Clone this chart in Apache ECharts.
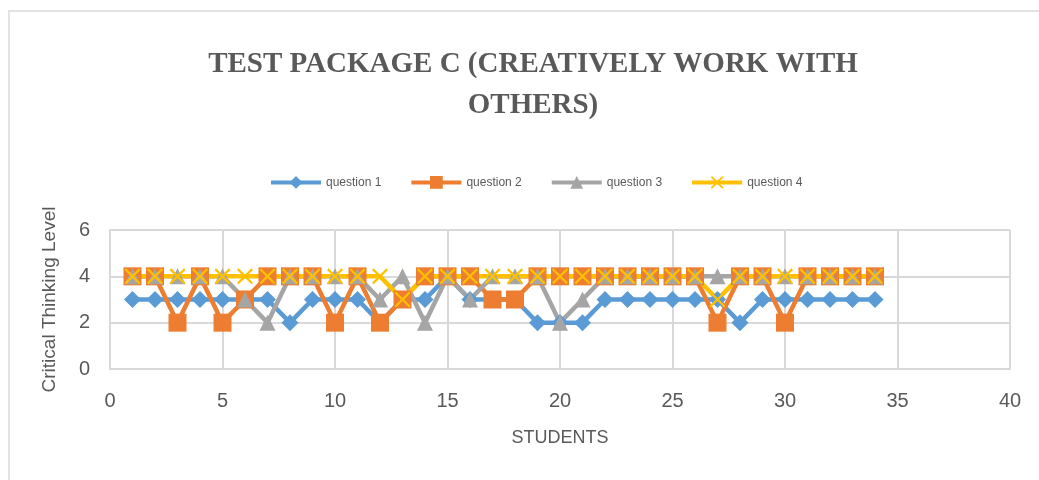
<!DOCTYPE html>
<html>
<head>
<meta charset="utf-8">
<script src="https://cdn.jsdelivr.net/npm/echarts@6/dist/echarts.min.js"></script>
<style>
    html, body { margin: 0; padding: 0; background: #ffffff; }
    /* chart frame */
    #frame {
        position: absolute; left: 8px; top: 10px;
        width: 1040px; height: 480px;
        border-left: 2px solid #e3e3e3; border-top: 2px solid #e3e3e3;
        box-sizing: border-box;
    }
    #main { position: absolute; left: 0; top: 0; width: 1039px; height: 480px; }
</style>
</head>
<body>
<div id="frame"></div>
<div id="main"></div>
<script>
    // students 1..34
    var students = [];
    for (var i = 1; i <= 34; i++) students.push(i);

    var question1 = [3,3,3,3,3,3,3,2,3,3,3,2,3,3,4,3,3,3,2,2,2,3,3,3,3,3,3,2,3,3,3,3,3,3];
    var question2 = [4,4,2,4,2,3,4,4,4,2,4,2,3,4,4,4,3,3,4,4,4,4,4,4,4,4,2,4,4,2,4,4,4,4];
    var question3 = [4,4,4,4,4,3,2,4,4,4,4,3,4,2,4,3,4,4,4,2,3,4,4,4,4,4,4,4,4,4,4,4,4,4];
    var question4 = [4,4,4,4,4,4,4,4,4,4,4,4,3,4,4,4,4,4,4,4,4,4,4,4,4,4,3,4,4,4,4,4,4,4];

    var seriesNames = ['question 1', 'question 2', 'question 3', 'question 4'];
    var seriesColors = ['#5B9BD5', '#ED7D31', '#A5A5A5', '#FFC000'];

    function pairs(vals) {
        return students.map(function (s, k) { return [s, vals[k]]; });
    }

    var crossPath = 'path://M0,1L1,0L5,4L9,0L10,1L6,5L10,9L9,10L5,6L1,10L0,9L4,5Z';
    var symbols = ['diamond', 'rect', 'triangle', crossPath];
    var symbolSizes = [17, 18, 16, 16];
    var allData = [question1, question2, question3, question4];

    var chart = echarts.init(document.getElementById('main'));
    chart.setOption({
        animation: false,
        title: {
            text: 'TEST PACKAGE C (CREATIVELY WORK WITH\nOTHERS)',
            left: 528,
            textAlign: 'center',
            top: 39,
            textStyle: {
                fontFamily: 'Liberation Serif',
                fontSize: 29,
                fontWeight: 'bold',
                color: '#595959',
                lineHeight: 41
            }
        },
        legend: {
            top: 171,
            left: 264,
            itemWidth: 50,
            itemHeight: 16,
            itemGap: 28,
            lineStyle: { width: 4 },
            textStyle: { fontFamily: 'Liberation Sans', fontSize: 12, color: '#595959' },
            data: seriesNames
        },
        grid: { left: 110, right: 29, top: 230, bottom: 111, containLabel: false },
        xAxis: {
            type: 'value',
            min: 0, max: 40, interval: 5,
            name: 'STUDENTS',
            nameLocation: 'middle',
            nameGap: 60,
            nameTextStyle: { fontFamily: 'Liberation Sans', fontSize: 18, color: '#595959' },
            axisLine: { show: true, lineStyle: { color: '#d9d9d9', width: 2 } },
            axisTick: { show: false },
            axisLabel: { fontFamily: 'Liberation Sans', fontSize: 20, color: '#595959', margin: 22 },
            splitLine: { show: true, lineStyle: { color: '#d9d9d9', width: 2 } }
        },
        yAxis: {
            type: 'value',
            min: 0, max: 6, interval: 2,
            name: 'Critical Thinking Level',
            nameLocation: 'middle',
            nameGap: 51,
            nameTextStyle: { fontFamily: 'Liberation Sans', fontSize: 19, color: '#595959' },
            axisLine: { show: true, lineStyle: { color: '#d9d9d9', width: 2 } },
            axisTick: { show: false },
            axisLabel: { fontFamily: 'Liberation Sans', fontSize: 20, color: '#595959', margin: 20 },
            splitLine: { show: true, lineStyle: { color: '#d9d9d9', width: 2 } }
        },
        series: seriesNames.map(function (n, k) {
            return {
                name: n,
                type: 'line',
                data: pairs(allData[k]),
                symbol: symbols[k],
                symbolSize: symbolSizes[k],
                showAllSymbol: true,
                lineStyle: { color: seriesColors[k], width: 4.5 },
                itemStyle: { color: seriesColors[k], opacity: 1 }
            };
        })
    });
</script>
</body>
</html>
